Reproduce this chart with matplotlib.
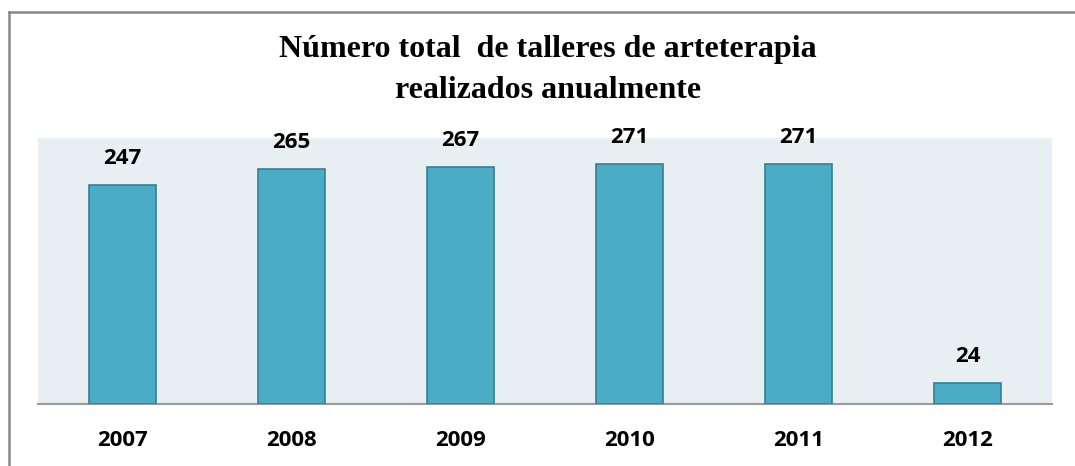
import matplotlib
matplotlib.use("Agg")
import matplotlib.pyplot as plt
from matplotlib.lines import Line2D

years = ["2007", "2008", "2009", "2010", "2011", "2012"]
values = [247, 265, 267, 271, 271, 24]
title = "Número total  de talleres de arteterapia\nrealizados anualmente"

fig = plt.figure(figsize=(10.75, 4.66), dpi=100)
ax = fig.add_axes([38/1075, 62/466, 1014/1075, 266/466])
ax.set_facecolor("#E8EFF3")

x = list(range(len(years)))
bars = ax.bar(x, values, width=0.40, color="#4BACC6", edgecolor="#357F95", linewidth=1.2, zorder=3)
ax.set_xlim(-0.5, len(years) - 0.5)
ax.set_ylim(0, 300)
ax.set_yticks([])
ax.set_xticks(x)
ax.set_xticklabels(years, fontfamily="Open Sans", fontweight="bold", fontsize=16)
ax.tick_params(axis="x", length=0, pad=19)
for s in ["top", "right", "left"]:
    ax.spines[s].set_visible(False)
ax.spines["bottom"].set_color("#9A9A9A")
ax.spines["bottom"].set_linewidth(1.5)

for xi, v in zip(x, values):
    ax.annotate(str(v), (xi, v), xytext=(0, 19), textcoords="offset points",
                ha="center", va="center", fontfamily="Open Sans", fontweight="bold", fontsize=16)

fig.text(548/1075, 1 - 70/466, title, ha="center", va="center",
         fontfamily="Liberation Serif", fontweight="bold", fontsize=23, linespacing=1.5)

fig.add_artist(Line2D([8.5/1075, 8.5/1075], [0, 1 - 11.5/466], color="#888888", linewidth=1.8, transform=fig.transFigure))
fig.add_artist(Line2D([8.5/1075, 1], [1 - 11.5/466, 1 - 11.5/466], color="#888888", linewidth=1.8, transform=fig.transFigure))

fig.savefig("out.png", dpi=100)
